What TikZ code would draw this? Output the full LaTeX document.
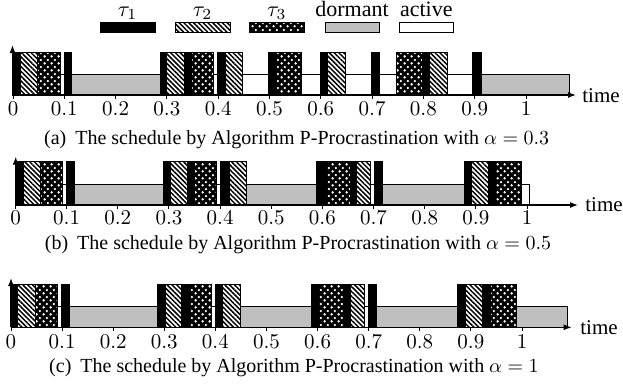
\RequirePackage{fix-cm}
\documentclass[tikz,border=0pt]{standalone}
\usepackage[no-math]{fontspec}
\setmainfont{Liberation Serif}
\usetikzlibrary{patterns,patterns.meta,arrows.meta}
\pgfdeclarepatternformonly{wdots}{\pgfqpoint{0pt}{0pt}}{\pgfqpoint{3.6pt}{3.6pt}}{\pgfqpoint{3.6pt}{3.6pt}}{%
  \pgfpathcircle{\pgfqpoint{0.9pt}{0.9pt}}{.7pt}%
  \pgfpathcircle{\pgfqpoint{2.7pt}{2.7pt}}{.7pt}%
  \pgfusepath{fill}}
\tikzset{
  kjob/.style={fill=black,draw=black,line width=0.5pt},
  hjob/.style={draw=black,line width=0.5pt,preaction={fill=white},pattern={Lines[angle=-45,distance=1.7pt,line width=0.75pt]}},
  djob/.style={draw=black,line width=0.5pt,preaction={fill=black},pattern=wdots,pattern color=white},
  dorm/.style={fill=gray!50,draw=black,line width=0.5pt},
  actv/.style={fill=white,draw=black,line width=0.5pt},
  axisline/.style={line width=0.6pt,-{Latex[length=4pt,width=3pt]}},
  tickmark/.style={line width=0.5pt},
  tlab/.style={font=\fontsize{10.5}{12}\selectfont,anchor=north,inner sep=0pt},
  caplab/.style={font=\fontsize{10}{12}\selectfont,inner sep=0pt},
  timelab/.style={font=\fontsize{10.5}{12}\selectfont,anchor=west,inner sep=0pt},
  leglab/.style={font=\fontsize{11}{13}\selectfont,anchor=base,inner sep=0pt},
}
\begin{document}
\begin{tikzpicture}[x=0.5pt,y=-0.5pt]
\useasboundingbox (0,0) rectangle (623,387);
% ---------- legend
\draw[kjob] (100,22.7) rectangle (155,32.7);
\draw[hjob] (175,22.7) rectangle (230,32.7);
\draw[djob] (249.3,22.7) rectangle (304.3,32.7);
\draw[dorm] (325,22.7) rectangle (379,32.7);
\draw[actv] (399.3,22.7) rectangle (453.3,32.7);
\node[leglab] (l1) at (127.5,16) {$\tau_1$};
\node[leglab] (l2) at (202.5,16) {$\tau_2$};
\node[leglab] (l3) at (276.8,16) {$\tau_3$};
\node[leglab] (l4) at (352,16) {dormant};
\node[leglab] (l5) at (426.3,16) {active};
% ---------- (a)
\draw[actv] (12.5,74.5) rectangle (569.3,95);
\foreach \a/\b in {71.7/160,481.7/569.3} \draw[dorm] (\a,74.5) rectangle (\b,95);
\foreach \s/\a/\b in {kjob/12.3/20.7,hjob/20.7/37.7,djob/37.7/60.3,kjob/64/71.7,
  kjob/160/166.7,hjob/166.7/184.3,kjob/184.3/191.7,djob/191.7/213.3,kjob/217.3/225,hjob/225/242.7,
  kjob/268.3/276.7,djob/276.7/301.7,kjob/320/327.3,hjob/327.3/345.7,kjob/371.7/379,
  djob/396.7/422.3,kjob/422.3/429.3,hjob/429.3/447.7,kjob/472.7/481.7}
  \draw[\s] (\a,52.7) rectangle (\b,95);
\draw[axisline] (12.5,95) -- (576,95);
\draw[axisline] (12.5,95) -- (12.5,45);
\foreach \i/\l in {0/0,1/0.1,2/0.2,3/0.3,4/0.4,5/0.5,6/0.6,7/0.7,8/0.8,9/0.9,10/1}{
  \draw[tickmark] (13+51.3*\i,95) -- ++(0,4);
  \node[tlab] (ta\i) at (13+51.3*\i,101.5) {$\l$};}
\node[timelab] (timea) at (582,96) {time};
\node[caplab] (capa) at (296.7,140) {(a)\hspace{0.45em}The schedule by Algorithm P-Procrastination with $\alpha=0.3$};
% ---------- (b)
\draw[actv] (15.7,184.3) rectangle (529,205);
\foreach \a/\b in {74/163.3,246/316.7,382.3/464} \draw[dorm] (\a,184.3) rectangle (\b,205);
\foreach \s/\a/\b in {kjob/15.7/23.3,hjob/23.3/40.7,djob/40.7/62.7,kjob/66.7/74,
  kjob/163.3/170.7,hjob/170.7/187.3,kjob/187.3/194.3,djob/194.3/216.7,kjob/220.7/229.3,hjob/229.3/246,
  kjob/316.7/326,djob/326/350,kjob/350/356,hjob/356/370.7,kjob/374/382.3,
  kjob/464/471.7,hjob/471.7/488.3,kjob/488.3/495,djob/495/521.7}
  \draw[\s] (\a,161.7) rectangle (\b,205);
\draw[axisline] (15.7,205) -- (578,205);
\draw[axisline] (15.7,205) -- (15.7,156.7);
\foreach \i/\l in {0/0,1/0.1,2/0.2,3/0.3,4/0.4,5/0.5,6/0.6,7/0.7,8/0.8,9/0.9,10/1}{
  \draw[tickmark] (15.5+51.15*\i,205) -- ++(0,4);
  \node[tlab] (tb\i) at (15.5+51.15*\i,211) {$\l$};}
\node[timelab] (timeb) at (585,205) {time};
\node[caplab] (capb) at (298,245) {(b)\hspace{0.45em}The schedule by Algorithm P-Procrastination with $\alpha=0.5$};
% ---------- (c)
\draw[actv] (11,306) rectangle (567.7,327.3);
\foreach \a/\b in {69/157.3,240.7/311.7,376.7/457.7,516/567.7} \draw[dorm] (\a,306) rectangle (\b,327.3);
\foreach \s/\a/\b in {kjob/11/17.3,hjob/17.3/35,djob/35/57.3,kjob/61.7/69,
  kjob/157.3/165,hjob/165/181.7,kjob/181.7/189.3,djob/189.3/211.7,kjob/215/222.7,hjob/222.7/240.7,
  kjob/311/318.3,djob/318.3/343.3,kjob/343.3/350.7,hjob/350.7/364.3,kjob/368.3/376.7,
  kjob/457.7/465.7,hjob/465.7/482.3,kjob/482.3/490,djob/490/516}
  \draw[\s] (\a,284.3) rectangle (\b,327.3);
\draw[axisline] (11,327.3) -- (571.7,327.3);
\draw[axisline] (11,327.3) -- (11,278);
\foreach \i/\l in {0/0,1/0.1,2/0.2,3/0.3,4/0.4,5/0.5,6/0.6,7/0.7,8/0.8,9/0.9,10/1}{
  \draw[tickmark] (11+51.1*\i,327.3) -- ++(0,4);
  \node[tlab] (tc\i) at (11+51.1*\i,335) {$\l$};}
\node[timelab] (timec) at (580,328) {time};
\node[caplab] (capc) at (294,367.3) {(c)\hspace{0.45em}The schedule by Algorithm P-Procrastination with $\alpha=1$};
\end{tikzpicture}
\end{document}
